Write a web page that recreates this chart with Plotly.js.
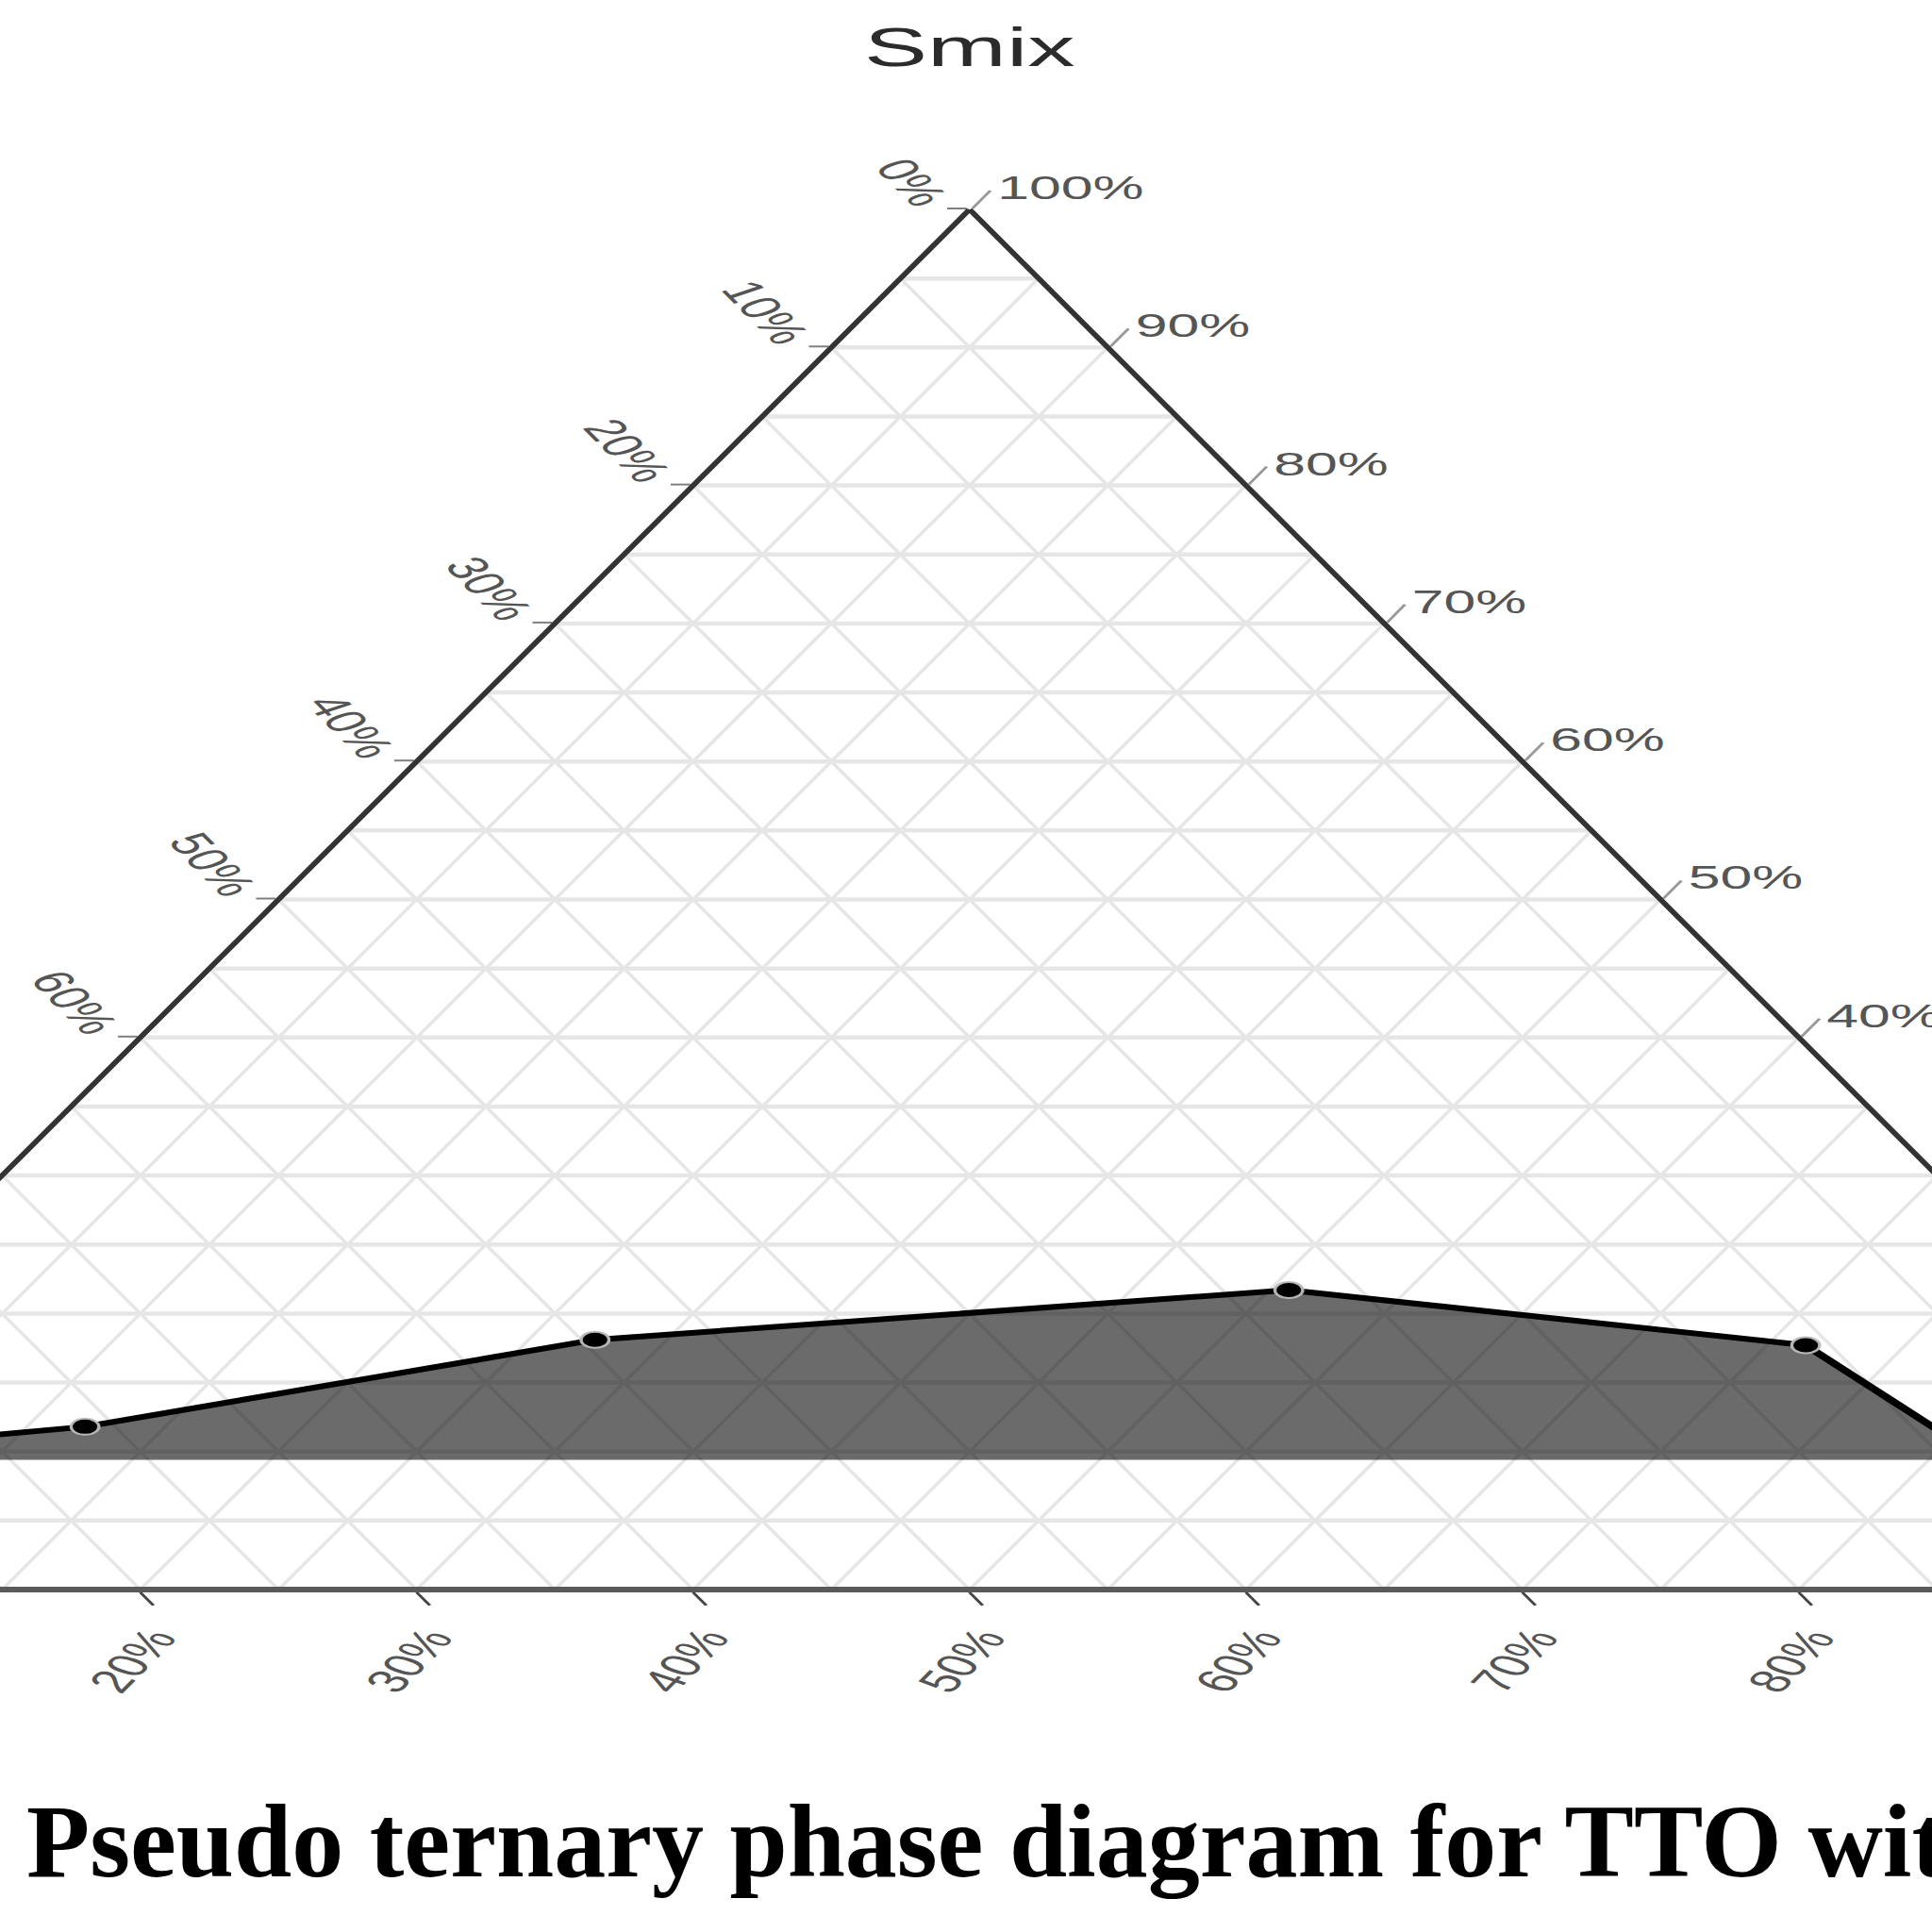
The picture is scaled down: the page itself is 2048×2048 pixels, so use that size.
<!DOCTYPE html>
<html>
<head>
<meta charset="utf-8">
<script src="https://cdn.plot.ly/plotly-3.0.1.min.js"></script>
<style>
html, body { margin:0; padding:0; width:2048px; height:2048px; overflow:hidden; background:#ffffff; }
#tern { position:absolute; left:-620px; top:0; width:1900px; height:2048px; transform:scaleX(1.7345); transform-origin:0 0; }
#cap { position:absolute; left:0; top:0; width:2048px; height:2048px; pointer-events:none; }
</style>
</head>
<body>
<div id="tern"></div>
<div id="cap"></div>
<script>
// ---- data (percent) ----
// top vertex = Smix, left vertex and right vertex = the other two components
const smixPct        = [9.4, 11.8, 18.1, 21.7, 17.7, 9.4];
const leftVertexPct  = [90.6, 76.1, 54.5, 27.6, 10.9, 8.6];
const rightVertexPct = [0.0, 12.1, 27.4, 50.7, 71.4, 82.0];

const tickValues = [0, 10, 20, 30, 40, 50, 60, 70, 80, 90, 100];
const tickLabels = ["100%", "90%", "80%", "70%", "60%", "50%", "40%", "30%", "20%", "10%", "0%"];

const topTitle = "Smix";
const captionText = "Pseudo ternary phase diagram for TTO with";

const sans = "Liberation Sans, Arial, Helvetica, sans-serif";
const tickFont = { family: sans, size: 35, color: "#555555" };
const fullDomain = { x: [0, 1], y: [0, 1] };

function gridAxis(w) {
  return {
    title: { text: "" },
    showgrid: true, gridcolor: "#e6e6e6", gridwidth: w,
    tickmode: "linear", tick0: 0, dtick: 5,
    ticks: "", showticklabels: false, showline: false
  };
}
function frontAxis(lineColor, lineWidth, tickColor, tickLen, angle) {
  return {
    title: { text: "" },
    showgrid: false, showline: true, linecolor: lineColor, linewidth: lineWidth,
    ticks: "outside", ticklen: tickLen, tickwidth: 2, tickcolor: tickColor,
    tickmode: "array", tickvals: tickValues, ticktext: tickLabels,
    tickangle: angle, tickfont: tickFont
  };
}

const fillTrace = {
  type: "scatterternary", subplot: "ternary",
  a: smixPct, b: leftVertexPct, c: rightVertexPct,
  mode: "none", fill: "toself", fillcolor: "rgba(0,0,0,0.58)",
  hoverinfo: "skip", showlegend: false
};
const lineTrace = {
  type: "scatterternary", subplot: "ternary2",
  a: smixPct, b: leftVertexPct, c: rightVertexPct,
  mode: "lines+markers",
  line: { color: "#000000", width: 6 },
  marker: { color: "#000000", size: 17, line: { color: "rgba(190,190,190,0.95)", width: 2 } },
  hoverinfo: "skip", showlegend: false
};

const layout = {
  width: 1900, height: 2048,
  margin: { l: 0, r: 0, t: 222, b: 363 },
  paper_bgcolor: "#ffffff",
  showlegend: false,
  title: {
    text: topTitle, font: { family: sans, size: 58, color: "#2b2b2b" },
    x: 0.5, xref: "paper", xanchor: "center",
    y: 0.9756, yref: "container", yanchor: "middle"
  },
  ternary: {
    domain: fullDomain,
    sum: 100, bgcolor: "#ffffff",
    aaxis: gridAxis(4.5), baxis: gridAxis(2.5), caxis: gridAxis(2.5)
  },
  ternary2: {
    domain: fullDomain,
    sum: 100, bgcolor: "rgba(0,0,0,0)",
    aaxis: frontAxis("#333333", 4, "#808080", 12, 60),
    baxis: frontAxis("#5a5a5a", 6, "#444444", 16, -60),
    caxis: frontAxis("#333333", 4, "#999999", 22, 0)
  }
};

Plotly.newPlot("tern", [fillTrace, lineTrace], layout, { displayModeBar: false, staticPlot: true });

const capLayout = {
  width: 2048, height: 2048,
  margin: { l: 0, r: 0, t: 0, b: 0 },
  paper_bgcolor: "rgba(0,0,0,0)", plot_bgcolor: "rgba(0,0,0,0)",
  xaxis: { visible: false }, yaxis: { visible: false },
  annotations: [{
    text: "<b>" + captionText + "</b>",
    xref: "paper", yref: "paper", x: 0.0127, y: 0.0469,
    xanchor: "left", yanchor: "middle", showarrow: false,
    font: { family: "Liberation Serif, Times New Roman, serif", size: 110, color: "#000000" }
  }]
};
Plotly.newPlot("cap", [], capLayout, { displayModeBar: false, staticPlot: true });
</script>
</body>
</html>
